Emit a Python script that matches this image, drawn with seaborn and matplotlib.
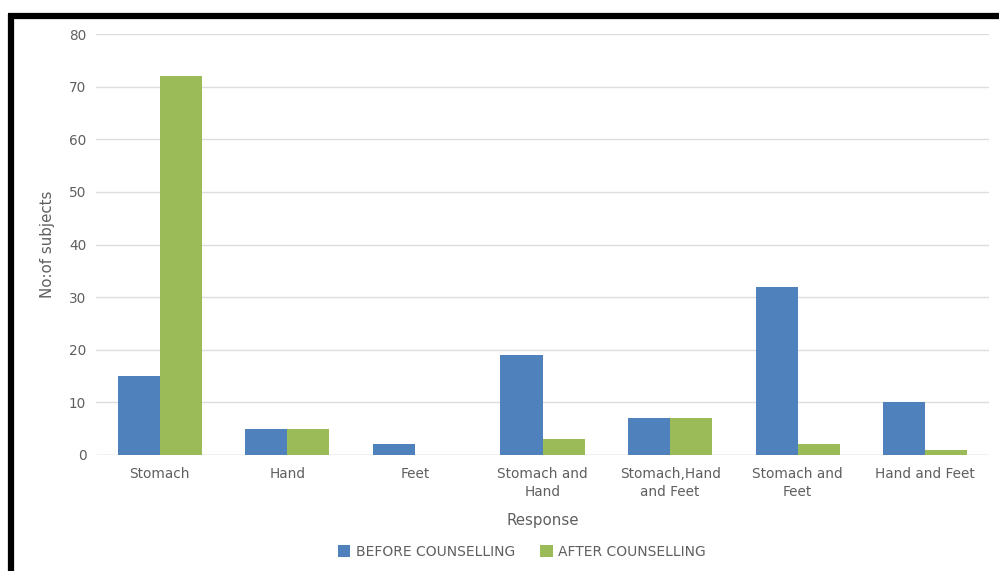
import matplotlib
matplotlib.use("Agg")
import matplotlib.pyplot as plt
import seaborn as sns
import pandas as pd
from matplotlib.lines import Line2D
from matplotlib.patches import Patch

categories = ["Stomach", "Hand", "Feet", "Stomach and\nHand", "Stomach,Hand\nand Feet", "Stomach and\nFeet", "Hand and Feet"]
before = [15, 5, 2, 19, 7, 32, 10]
after = [72, 5, 0, 3, 7, 2, 1]
series_names = ["BEFORE COUNSELLING", "AFTER COUNSELLING"]
yticks = [0, 10, 20, 30, 40, 50, 60, 70, 80]

sns.set_theme(style="white")
plt.rcParams['font.family'] = ['DejaVu Sans']

df = pd.DataFrame({
    "Response": categories * 2,
    "value": before + after,
    "series": [series_names[0]] * len(categories) + [series_names[1]] * len(categories),
})

fig = plt.figure(figsize=(9.99, 5.71), dpi=100)
W, H = 999, 571
ax = fig.add_axes([96 / W, 1 - 455 / H, (989 - 96) / W, (455 - 34) / H])

colors = ["#4F81BD", "#9BBB59"]
sns.barplot(data=df, x="Response", y="value", hue="series", palette=colors,
            width=0.66, gap=0, ax=ax, legend=False, zorder=3, saturation=1,
            edgecolor="none", linewidth=0)

ax.set_ylim(0, 80)
ax.set_yticks(yticks)
ax.set_xlim(-0.5, len(categories) - 0.5)
ax.yaxis.grid(True, color="#DDDDDD", linewidth=1, zorder=0)
ax.set_axisbelow(True)
for s in ax.spines.values():
    s.set_visible(False)
ax.axhline(0, color="#DDDDDD", linewidth=1, zorder=1)

txt = "#5F5F5F"
ax.tick_params(axis="both", length=0, colors=txt, labelsize=9.8)
ax.tick_params(axis="y", pad=7)
ax.tick_params(axis="x", pad=9)
for lab in ax.get_xticklabels():
    lab.set_linespacing(1.3)
ax.set_xlabel("Response", color=txt, fontsize=10.8, labelpad=10)
ax.set_ylabel("No:of subjects", color=txt, fontsize=10.8, labelpad=10)

handles = [Patch(facecolor=c, edgecolor="none") for c in colors]
fig.legend(handles, series_names, loc="center", bbox_to_anchor=(522 / W, 1 - 552 / H),
           ncol=2, frameon=False, fontsize=10, labelcolor=txt,
           handlelength=0.9, handleheight=0.9, handletextpad=0.4, columnspacing=1.8)

# black frame lines (top and left)
fig.add_artist(Line2D([8 / W, 1], [1 - 16 / H, 1 - 16 / H], transform=fig.transFigure,
                      color="black", linewidth=4.5, solid_capstyle="butt"))
fig.add_artist(Line2D([11 / W, 11 / W], [0, 1 - 13.5 / H], transform=fig.transFigure,
                      color="black", linewidth=4.5, solid_capstyle="butt"))

fig.savefig("out.png", dpi=100)
